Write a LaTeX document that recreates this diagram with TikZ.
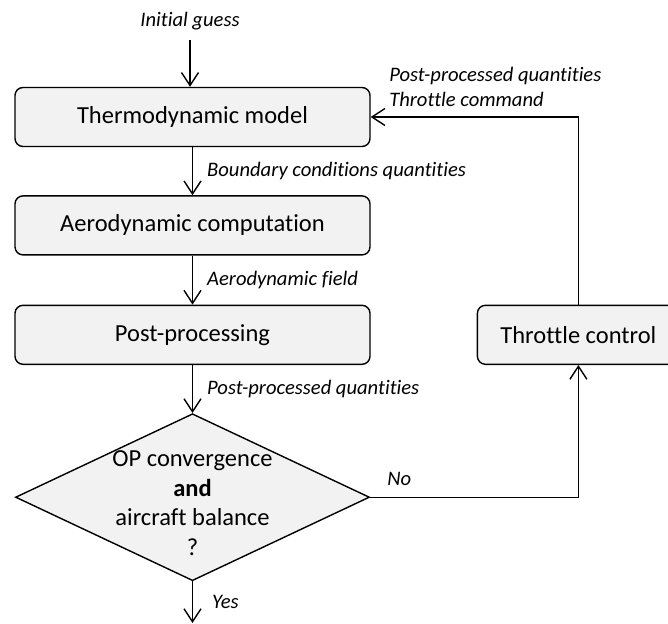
\documentclass[tikz,border=0pt]{standalone}
\usepackage{fontspec}
\setmainfont{Carlito}[Ligatures=NoCommon]
\usepackage{tikz}
\usetikzlibrary{shapes.geometric,arrows.meta,positioning,calc}
\definecolor{boxfill}{RGB}{242,242,242}
\tikzstyle{block} = [draw, rectangle, rounded corners=8pt, fill=boxfill, line width=1.4pt, minimum width=355pt, minimum height=59pt, font=\fontsize{24.5}{29.5}\selectfont]
\tikzstyle{decision} = [draw, diamond, fill=boxfill, line width=1.4pt, minimum width=354pt, minimum height=167pt, inner sep=0pt]
\tikzstyle{flow} = [-{Straight Barb[length=13pt,width=17pt]}, line width=1.4pt]
\tikzstyle{lbl} = [font=\fontsize{20.6}{25}\selectfont\itshape, inner sep=2pt]

\begin{document}
\begin{tikzpicture}[x=1pt, y=-1pt]
    \useasboundingbox (0,0) rectangle (668,623);
    \clip (0,0) rectangle (668,623);
    % Blocks
    \node[lbl] (init) at (190,21) {Initial guess};
    \node[block] (thermo) at (192.5,117) {Thermodynamic model};
    \node[block, below=48pt of thermo] (aero) {Aerodynamic computation};
    \node[block, below=49pt of aero] (post) {Post-processing};
    \node[block, minimum width=202pt, right=106pt of post] (throttle) {Throttle control};
    % Decision (text set apart, shifted down)
    \node[decision, below=48pt of post] (check) {};
    \node[align=center, font=\fontsize{24.5}{29.5}\selectfont] (checktxt) at ([yshift=-6pt]check.center) {OP convergence\\\textbf{and}\\aircraft balance\\?};
    \coordinate (out) at (192.5,623);
    % Connectors
    \draw[flow, shorten <=8pt] (init) -- (init |- thermo.north);
    \draw[flow] (thermo) -- node[lbl, right=12pt] {Boundary conditions quantities} (aero);
    \draw[flow] (aero) -- node[lbl, right=12pt] {Aerodynamic field} (post);
    \draw[flow] (post) -- node[lbl, right=12pt] {Post-processed quantities} (check);
    \draw[flow] (check.east) -| node[lbl, pos=0.07, above=9pt] {No} (throttle.south);
    \draw[flow] (throttle.north) |- node[lbl, pos=0.7, above=8pt, align=left] {Post-processed quantities\\Throttle command} (thermo.east);
    \draw[flow] (check.south) -- node[lbl, right=17pt] {Yes} (out);
\end{tikzpicture}
\end{document}
